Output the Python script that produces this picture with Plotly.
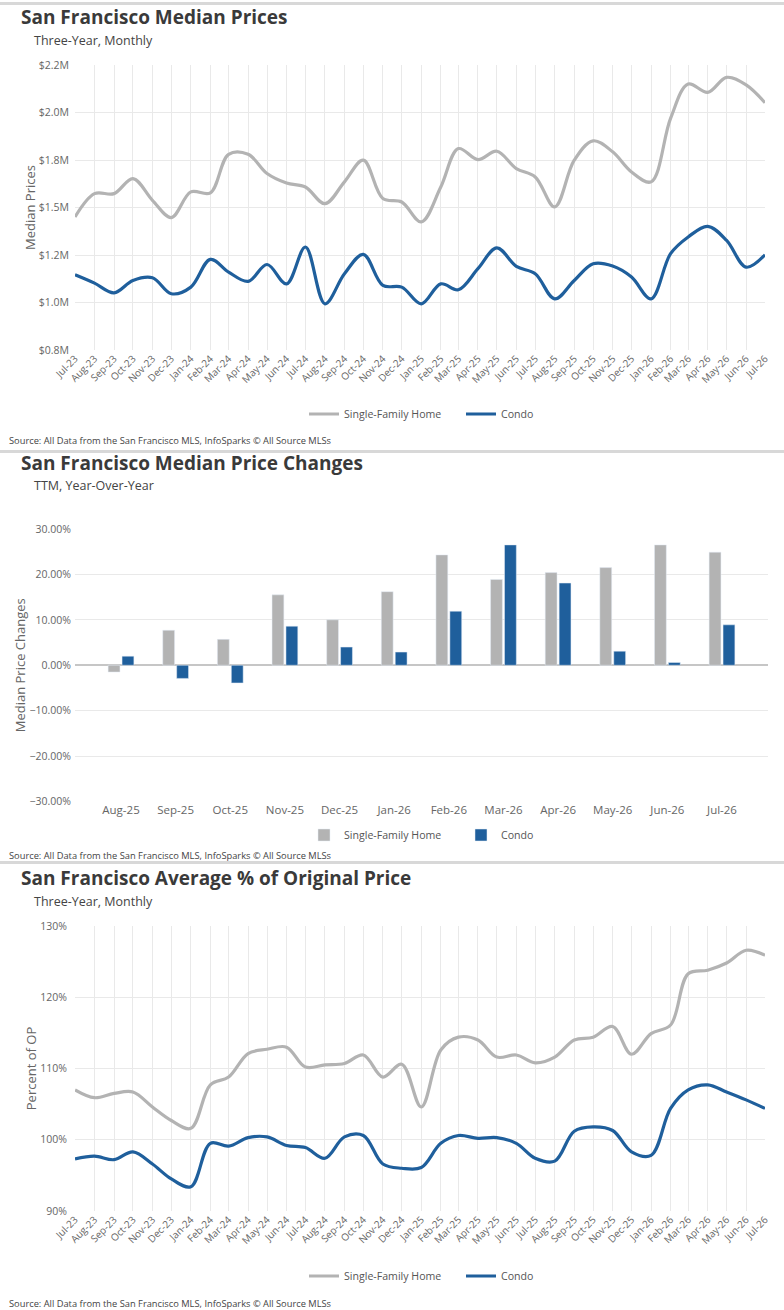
import plotly.graph_objects as go

# --- data -------------------------------------------------------------
months = [
    "2023-07-01", "2023-08-01", "2023-09-01", "2023-10-01", "2023-11-01", "2023-12-01",
    "2024-01-01", "2024-02-01", "2024-03-01", "2024-04-01", "2024-05-01", "2024-06-01",
    "2024-07-01", "2024-08-01", "2024-09-01", "2024-10-01", "2024-11-01", "2024-12-01",
    "2025-01-01", "2025-02-01", "2025-03-01", "2025-04-01", "2025-05-01", "2025-06-01",
    "2025-07-01", "2025-08-01", "2025-09-01", "2025-10-01", "2025-11-01", "2025-12-01",
    "2026-01-01", "2026-02-01", "2026-03-01", "2026-04-01", "2026-05-01", "2026-06-01",
    "2026-07-01",
]

# median prices, $M
sfh_price = [
    1.450, 1.573, 1.573, 1.652, 1.538, 1.447, 1.582, 1.577, 1.780, 1.780, 1.679, 1.629,
    1.608, 1.520, 1.635, 1.749, 1.547, 1.529, 1.424, 1.608, 1.810, 1.752, 1.796, 1.705,
    1.661, 1.503, 1.749, 1.851, 1.793, 1.687, 1.635, 1.969, 2.150, 2.106, 2.185, 2.145,
    2.051,
]
condo_price = [
    1.146, 1.102, 1.051, 1.116, 1.130, 1.046, 1.081, 1.227, 1.160, 1.111, 1.200, 1.098,
    1.292, 0.993, 1.151, 1.253, 1.090, 1.081, 0.993, 1.098, 1.067, 1.178, 1.288, 1.190,
    1.151, 1.019, 1.116, 1.204, 1.192, 1.134, 1.019, 1.257, 1.345, 1.401, 1.327, 1.186,
    1.251,
]
price_ticks = [0.75, 1.0, 1.25, 1.5, 1.75, 2.0, 2.25]
price_labels = ["$0.8M", "$1.0M", "$1.2M", "$1.5M", "$1.8M", "$2.0M", "$2.2M"]

# TTM year-over-year change, %
change_months = ["Aug-25", "Sep-25", "Oct-25", "Nov-25", "Dec-25", "Jan-26",
                 "Feb-26", "Mar-26", "Apr-26", "May-26", "Jun-26", "Jul-26"]
sfh_change = [-1.5, 7.7, 5.7, 15.5, 10.0, 16.2, 24.3, 18.9, 20.4, 21.5, 26.5, 24.9]
condo_change = [2.0, -2.9, -3.9, 8.6, 4.0, 2.9, 11.9, 26.5, 18.1, 3.1, 0.6, 8.9]

# average % of original price
sfh_op = [
    107.0, 105.9, 106.5, 106.7, 104.6, 102.7, 101.6, 107.7, 108.8, 112.1, 112.7, 113.0,
    110.2, 110.5, 110.7, 111.9, 108.8, 110.6, 104.6, 112.6, 114.4, 114.0, 111.6, 111.9,
    110.8, 111.6, 114.0, 114.4, 115.9, 112.0, 114.9, 116.1, 123.3, 123.8, 124.8, 126.6,
    125.9,
]
condo_op = [
    97.3, 97.7, 97.2, 98.3, 96.6, 94.5, 93.4, 99.5, 99.1, 100.3, 100.4, 99.2,
    98.9, 97.4, 100.4, 100.6, 96.6, 96.0, 96.1, 99.5, 100.6, 100.2, 100.3, 99.5,
    97.4, 97.0, 101.2, 101.8, 101.3, 98.3, 97.8, 104.4, 107.0, 107.7, 106.7, 105.6,
    104.4,
]

source = "Source: All Data from the San Francisco MLS, InfoSparks © All Source MLSs"

# --- styling ------------------------------------------------------------
W, H = 784, 1310
GRAY = "#b3b3b3"
BLUE = "#1f5f9c"
GRID = "#e9e9e9"
FONT = "Open Sans"


def px(x):
    return x / W


def py(y):
    return 1 - y / H


fig = go.Figure()

fig.add_trace(go.Scatter(x=months, y=[v * 1e6 for v in sfh_price], name="Single-Family Home",
                         mode="lines", line=dict(color=GRAY, width=3.2, shape="spline", smoothing=1),
                         xaxis="x", yaxis="y", legend="legend"))
fig.add_trace(go.Scatter(x=months, y=[v * 1e6 for v in condo_price], name="Condo",
                         mode="lines", line=dict(color=BLUE, width=3.2, shape="spline", smoothing=1),
                         xaxis="x", yaxis="y", legend="legend"))

fig.add_trace(go.Bar(x=change_months, y=sfh_change, name="Single-Family Home", marker_color=GRAY,
                     xaxis="x2", yaxis="y2", legend="legend2"))
fig.add_trace(go.Bar(x=change_months, y=condo_change, name="Condo", marker_color=BLUE,
                     xaxis="x2", yaxis="y2", legend="legend2"))

fig.add_trace(go.Scatter(x=months, y=sfh_op, name="Single-Family Home",
                         mode="lines", line=dict(color=GRAY, width=3.2, shape="spline", smoothing=1),
                         xaxis="x3", yaxis="y3", legend="legend3"))
fig.add_trace(go.Scatter(x=months, y=condo_op, name="Condo",
                         mode="lines", line=dict(color=BLUE, width=3.2, shape="spline", smoothing=1),
                         xaxis="x3", yaxis="y3", legend="legend3"))

tickfont = dict(family=FONT, size=10, color="#666666")
ytickfont = dict(family=FONT, size=10.5, color="#666666")
ytitlefont = dict(family=FONT, size=13, color="#666666")
date_axis = dict(type="date", range=[months[0], months[-1]], dtick="M1", tick0=months[0],
                 tickformat="%b-%y", tickangle=-45, showgrid=True, gridcolor=GRID,
                 showline=False, zeroline=False, tickfont=tickfont, ticks="", automargin=False)
value_axis = dict(showgrid=True, gridcolor=GRID, zeroline=False, tickfont=ytickfont,
                  automargin=False, ticklabelstandoff=5)

legend_base = dict(orientation="h", xanchor="left", yanchor="middle", bgcolor="rgba(0,0,0,0)",
                   font=dict(family=FONT, size=10.6, color="#555555"),
                   entrywidth=112, entrywidthmode="pixels")

fig.update_layout(
    width=W, height=H,
    margin=dict(l=0, r=0, t=0, b=0, autoexpand=False),
    paper_bgcolor="white", plot_bgcolor="white",
    font=dict(family=FONT, color="#555555"),
    barmode="group", bargap=0.49, bargroupgap=0.15,
    xaxis=dict(date_axis, domain=[px(75), px(765)], anchor="y"),
    yaxis=dict(value_axis, domain=[py(350), py(65)], range=[0.75e6, 2.25e6],
               tickvals=[v * 1e6 for v in price_ticks], ticktext=price_labels, anchor="x",
               title=dict(text="Median Prices", font=ytitlefont, standoff=0)),
    xaxis2=dict(type="category", domain=[px(75), px(768)], range=[-0.842, 11.842], anchor="y2",
                showgrid=False, showline=False, zeroline=False, ticks="", automargin=False,
                tickfont=dict(family=FONT, size=11.5, color="#666666")),
    yaxis2=dict(value_axis, domain=[py(801.5), py(529)], range=[-30, 30], dtick=10,
                tickformat=".2f", ticksuffix="%", anchor="x2",
                zeroline=True, zerolinecolor="#c6c6c6", zerolinewidth=1.5, ticklabelstandoff=3,
                title=dict(text="Median Price Changes", font=ytitlefont, standoff=0)),
    xaxis3=dict(date_axis, domain=[px(75), px(765)], anchor="y3"),
    yaxis3=dict(value_axis, domain=[py(1211), py(926)], range=[90, 130], dtick=10,
                ticksuffix="%", anchor="x3", ticklabelstandoff=7,
                title=dict(text="Percent of OP", font=ytitlefont, standoff=0)),
    legend=dict(legend_base, x=px(304), y=py(414)),
    legend2=dict(legend_base, x=px(304), y=py(835)),
    legend3=dict(legend_base, x=px(304), y=py(1276)),
)

# titles, subtitles, sources
blocks = [
    ("San Francisco Median Prices", "Three-Year, Monthly", 17, 40, 441),
    ("San Francisco Median Price Changes", "TTM, Year-Over-Year", 463, 486, 855),
    ("San Francisco Average % of Original Price", "Three-Year, Monthly", 878, 901, 1303),
]
for title, sub, ty, sy, srcy in blocks:
    fig.add_annotation(text="<b>" + title + "</b>", x=px(19), y=py(ty), xref="paper", yref="paper",
                       xanchor="left", yanchor="middle", showarrow=False,
                       font=dict(family=FONT, size=19, color="#3a3a3a"))
    fig.add_annotation(text=sub, x=px(32), y=py(sy), xref="paper", yref="paper",
                       xanchor="left", yanchor="middle", showarrow=False,
                       font=dict(family=FONT, size=12.5, color="#444444"))
    fig.add_annotation(text=source, x=px(7), y=py(srcy), xref="paper", yref="paper",
                       xanchor="left", yanchor="middle", showarrow=False,
                       font=dict(family=FONT, size=9.3, color="#444444"))

# separators between the panels
for sep in [3.5, 451.5, 862.5]:
    fig.add_shape(type="line", xref="paper", yref="paper", x0=0, x1=1, y0=py(sep), y1=py(sep),
                  line=dict(color="#d8d8d8", width=3))

# drop the browser's default page margin so the figure sits at the window corner
fig.write_html("out.html", config={"displayModeBar": False},
               post_script="document.body.style.margin='0px';")
